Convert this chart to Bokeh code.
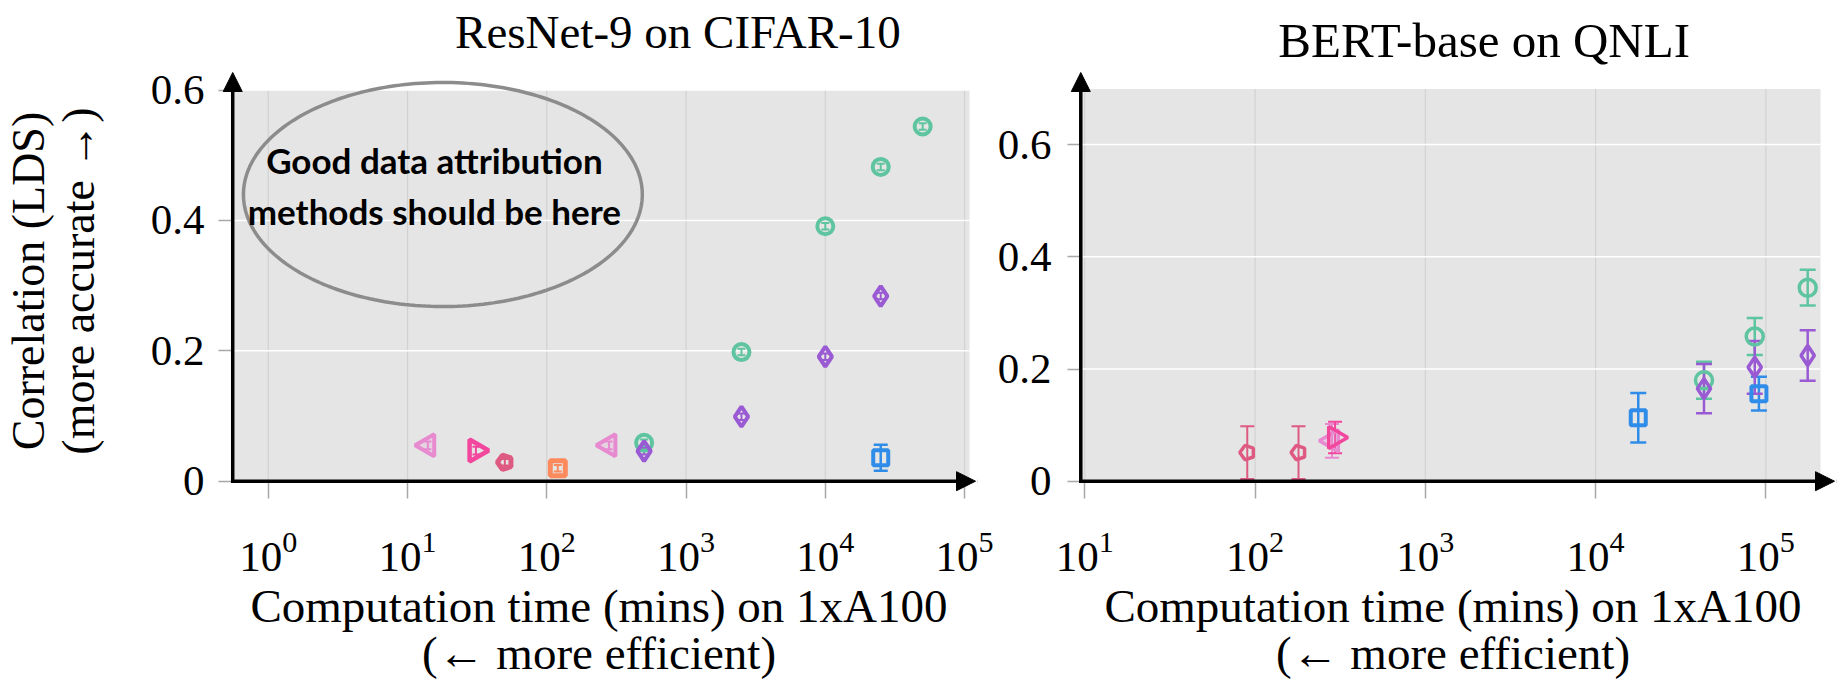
import numpy as np
from bokeh.plotting import figure
from bokeh.models import (Range1d, Arrow, NormalHead, Whisker, TeeHead, BoxAnnotation,
                          ColumnDataSource, PolyAnnotation, Label)
from bokeh.models import glyphs as _glyphs
from bokeh.layouts import row, column
from bokeh.embed import file_html
from bokeh.resources import INLINE
from bokeh.core.properties import value

# ---------------- data: ResNet-9 on CIFAR-10 ----------------
r_green_x = [500, 2500, 10000, 25000, 50000]
r_green_y = [0.059, 0.198, 0.391, 0.482, 0.544]
r_green_e = [0.005, 0.005, 0.005, 0.005, 0.005]

r_purple_x = [500, 2500, 10000, 25000]
r_purple_y = [0.046, 0.099, 0.191, 0.284]
r_purple_e = [0.005, 0.005, 0.005, 0.005]

r_blue_x = [25000]
r_blue_y = [0.036]
r_blue_e = [0.02]

r_orange_x = [120]
r_orange_y = [0.020]
r_orange_e = [0.005]

r_crimson_x = [50]
r_crimson_y = [0.029]
r_crimson_e = [0.005]

r_hotpink_x = [31]
r_hotpink_y = [0.047]
r_hotpink_e = [0.006]

r_lightpink_x = [14, 280]
r_lightpink_y = [0.055, 0.055]
r_lightpink_e = [0.006, 0.006]

# ---------------- data: BERT-base on QNLI ----------------
b_green_x = [43300, 86000, 176000]
b_green_y = [0.180, 0.258, 0.345]
b_green_e = [0.033, 0.033, 0.032]

b_purple_x = [43300, 86000, 176000]
b_purple_y = [0.165, 0.203, 0.224]
b_purple_e = [0.044, 0.047, 0.045]

b_blue_x = [17800, 91000]
b_blue_y = [0.113, 0.156]
b_blue_e = [0.044, 0.030]

b_crimson_x = [90, 180]
b_crimson_y = [0.051, 0.051]
b_crimson_e = [0.047, 0.047]

b_lightpink_x = [283]
b_lightpink_y = [0.072]
b_lightpink_e = [0.030]

b_hotpink_x = [295]
b_hotpink_y = [0.078]
b_hotpink_e = [0.028]

# ticks
left_xticks = [1, 10, 100, 1000, 10000, 100000]
right_xticks = [10, 100, 1000, 10000, 100000]
left_yticks = [0, 0.2, 0.4, 0.6]
right_yticks = [0, 0.2, 0.4, 0.6]

# titles
left_title = "ResNet-9 on CIFAR-10"
right_title = "BERT-base on QNLI"

# colours
GREEN = "#5fc4a0"
PURPLE = "#9a5ad3"
BLUE = "#2f8ce8"
ORANGE = "#fb8b5d"
CRIMSON = "#de5a82"
HOTPINK = "#f2479d"
LIGHTPINK = "#e78ad0"
PANEL = "#e5e5e5"

SERIF = "Liberation Serif"
HAS_NGON = hasattr(_glyphs, "Ngon")

PAGE_H = 682
FRAME_TOP = 70      # page y of frame top
FRAME_BOT = 491     # page y of frame bottom
AXIS_Y = 480.7      # page y of the x axis (value 0)


def title_fig(text, width, strip_h, center_px, middle_px, size):
    t = figure(width=width, height=strip_h, x_range=Range1d(0, width),
               y_range=Range1d(strip_h, 0), x_axis_type=None, y_axis_type=None,
               min_border=0, output_backend="svg", toolbar_location=None)
    t.outline_line_color = None
    t.background_fill_color = "white"
    t.border_fill_color = "white"
    t.text(x=[center_px], y=[middle_px], text=[text], text_align="center",
           text_baseline="middle", text_font=value(SERIF), text_font_size=value(size),
           text_color="black")
    return t


def make_fig(width, fig_top, fig_left, frame_left, frame_right,
             dec_px, tick_px, tick_dec, unit_px, ygray, x_axis_px, x_gray_px, x_tip_px,
             xticks, yticks, ylabel, ylabel_standoff, ytick_in, ytick_out, ylab_standoff):
    # data <-> pixel conversion (layout only)
    def lx(px):
        return 10 ** (tick_dec + (px - tick_px) / dec_px)

    def vy(py):
        return (AXIS_Y - py) / unit_px

    fig_h = PAGE_H - fig_top
    xr = (lx(frame_left), lx(frame_right))
    yr = (vy(FRAME_BOT), vy(FRAME_TOP))
    p = figure(x_axis_type="log", x_range=Range1d(*xr), y_range=Range1d(*yr),
               width=width, height=fig_h,
               min_border_left=frame_left - fig_left,
               min_border_right=width - (frame_right - fig_left),
               min_border_top=FRAME_TOP - fig_top, min_border_bottom=PAGE_H - FRAME_BOT,
               output_backend="svg", toolbar_location=None)
    p.background_fill_color = "white"
    p.border_fill_color = "white"
    p.outline_line_color = None
    p.xgrid.visible = False
    p.ygrid.visible = False

    p.xaxis.ticker = xticks
    p.yaxis.ticker = yticks
    p.yaxis.major_label_overrides = {0: "0"}
    for ax in (p.xaxis, p.yaxis):
        ax.axis_line_color = None
        ax.minor_tick_in = 0
        ax.minor_tick_out = 0
        ax.major_tick_line_color = "#a8a8a8"
        ax.major_tick_line_width = 1.5
        ax.major_label_text_font = SERIF
        ax.major_label_text_font_size = "43px"
        ax.major_label_text_color = "black"
        ax.axis_label_text_font = SERIF
        ax.axis_label_text_font_size = "47px"
        ax.axis_label_text_font_style = "normal"
        ax.axis_label_text_color = "black"
    p.xaxis.major_tick_in = int(round(FRAME_BOT - AXIS_Y))
    p.xaxis.major_tick_out = 7
    p.xaxis.major_label_standoff = 34
    p.xaxis.axis_label = "Computation time (mins) on 1xA100\n(\u2190 more efficient)"
    p.xaxis.axis_label_standoff = 6
    p.xaxis.axis_label_text_line_height = 0.92
    p.yaxis.major_tick_in = ytick_in
    p.yaxis.major_tick_out = ytick_out
    p.yaxis.major_label_standoff = ylab_standoff
    if ylabel:
        p.yaxis.axis_label = ylabel
        p.yaxis.axis_label_standoff = ylabel_standoff
        p.yaxis.axis_label_text_font_size = "46px"
        p.yaxis.axis_label_text_line_height = 0.97

    x0 = lx(x_axis_px)
    xg = lx(x_gray_px)
    xt = lx(x_tip_px)
    yt = vy(72)

    # grey plotting panel
    p.add_layout(BoxAnnotation(left=x0, right=xg, bottom=0, top=ygray, fill_color=PANEL,
                               fill_alpha=1, line_color=None, level="image"))
    # grid lines (from the tick lists)
    vx = [t for t in xticks]
    p.segment(x0=vx, y0=[0] * len(vx), x1=vx, y1=[ygray] * len(vx),
              line_color="#d2d2d2", line_width=1.2, level="underlay")
    hy = [t for t in yticks if t > 0]
    p.segment(x0=[x0] * len(hy), y0=hy, x1=[xg] * len(hy), y1=hy,
              line_color="white", line_width=1.5, level="underlay")
    # axes with arrow heads
    p.add_layout(Arrow(x_start=x0, y_start=0, x_end=xt, y_end=0, line_width=3.5,
                       line_cap="square",
                       end=NormalHead(size=19, fill_color="black", line_color="black", line_width=1)))
    p.add_layout(Arrow(x_start=x0, y_start=0, x_end=x0, y_end=yt, line_width=3.5,
                       line_cap="square",
                       end=NormalHead(size=19, fill_color="black", line_color="black", line_width=1)))
    return p, lx, vy


def draw(p, xs, ys, es, color, marker, size, lw, cap, elw, angle=0.0, fill_alpha=0.0):
    src = ColumnDataSource(dict(x=xs, y=ys,
                                lo=[a - b for a, b in zip(ys, es)],
                                hi=[a + b for a, b in zip(ys, es)]))
    w = Whisker(source=src, base="x", lower="lo", upper="hi", dimension="height",
                line_color=color, line_width=elw,
                upper_head=TeeHead(size=cap, line_color=color, line_width=elw),
                lower_head=TeeHead(size=cap, line_color=color, line_width=elw))
    p.add_layout(w)
    if marker == "pentagon" and HAS_NGON:
        p.ngon(x="x", y="y", radius=size / 2.0, radius_units="screen", n=5, angle=np.pi / 2,
               line_color=color, line_width=lw, fill_color=color, fill_alpha=fill_alpha,
               source=src)
    else:
        mk = "hex" if marker == "pentagon" else marker
        p.scatter(x="x", y="y", marker=mk, size=size, angle=angle, line_color=color,
                  line_width=lw, fill_color=color, fill_alpha=fill_alpha, source=src)


# ---------------- left figure ----------------
W1 = 994
TOP1 = 60
p1, lx1, vy1 = make_fig(W1, TOP1, 0, 214, 979,
                        140.0, 264.0, 0.0, 652.0, 0.6, 228.3, 969.0, 975.0,
                        left_xticks, left_yticks, "Correlation (LDS)\n(more accurate \u2192)", 44,
                        14, 0, 14)

# annotation ellipse + text
ell_cx, ell_cy, ell_rx, ell_ry = 1.254, 0.4397, 1.432, 0.1718
t = np.linspace(0, 2 * np.pi, 240)
p1.add_layout(PolyAnnotation(xs=list(10 ** (ell_cx + ell_rx * np.cos(t))),
                             ys=list(ell_cy + ell_ry * np.sin(t)),
                             fill_color=None, fill_alpha=0, line_color="#8c8c8c",
                             line_alpha=1.0, line_width=3.5))
p1.add_layout(Label(x=10 ** 1.193, y=0.4535, text="Good data attribution\nmethods should be here",
                    text_align="center", text_baseline="middle", text_font="Lato",
                    text_font_style="bold", text_font_size="35px", text_line_height=1.2,
                    text_color="black"))

draw(p1, r_lightpink_x, r_lightpink_y, r_lightpink_e, LIGHTPINK, "triangle", 22, 4, 7, 2, np.pi / 2, 0.2)
draw(p1, r_hotpink_x, r_hotpink_y, r_hotpink_e, HOTPINK, "triangle", 22, 4.5, 7, 2, -np.pi / 2)
draw(p1, r_crimson_x, r_crimson_y, r_crimson_e, CRIMSON, "pentagon", 15, 5, 7, 2)
draw(p1, r_orange_x, r_orange_y, r_orange_e, ORANGE, "square", 15, 5, 8, 2)
draw(p1, r_green_x, r_green_y, r_green_e, GREEN, "circle", 16, 4, 8, 2)
draw(p1, r_purple_x, r_purple_y, r_purple_e, PURPLE, "diamond", 20, 4, 7, 2)
draw(p1, r_blue_x, r_blue_y, r_blue_e, BLUE, "square", 15, 4, 14, 2.5)

# ---------------- right figure ----------------
W2 = 1837 - W1
TOP2 = 70
p2, lx2, vy2 = make_fig(W2, TOP2, W1, 1067, 1837,
                        170.5, 1083.3, 1.0, 561.0, 0.699, 1079.3, 1820.0, 1834.0,
                        right_xticks, right_yticks, None, 0,
                        12, 1, 16)

draw(p2, b_crimson_x, b_crimson_y, b_crimson_e, CRIMSON, "pentagon", 15, 3.5, 14, 2)
draw(p2, b_lightpink_x, b_lightpink_y, b_lightpink_e, LIGHTPINK, "triangle", 22, 3.5, 14, 2, np.pi / 2, 0.3)
draw(p2, b_hotpink_x, b_hotpink_y, b_hotpink_e, HOTPINK, "triangle", 22, 3.5, 14, 2, -np.pi / 2)
draw(p2, b_blue_x, b_blue_y, b_blue_e, BLUE, "square", 15, 4, 16, 2.5)
draw(p2, b_green_x, b_green_y, b_green_e, GREEN, "circle", 17, 3.5, 16, 2.5)
draw(p2, b_purple_x, b_purple_y, b_purple_e, PURPLE, "diamond", 20, 3.5, 16, 2.5)

# ---------------- titles ----------------
t1 = title_fig(left_title, W1, TOP1, 600, 31, "47px")
t2 = title_fig(right_title, W2, TOP2, (1079.3 + 1820.0) / 2 - W1, 40, "49px")

layout = row(column(t1, p1), column(t2, p2))
open("out.html", "w").write(file_html(layout, INLINE))
